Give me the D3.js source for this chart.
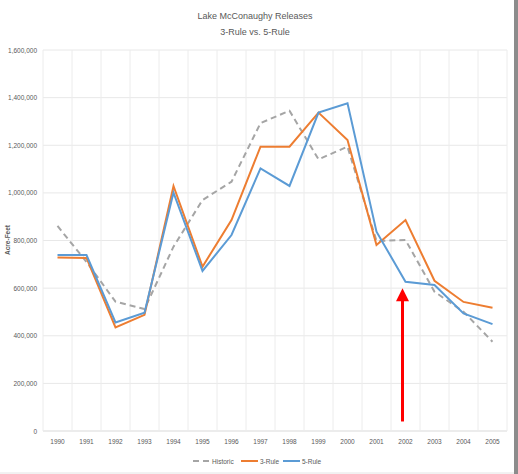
<!DOCTYPE html>
<head>
	<script src="https://d3js.org/d3.v7.min.js"></script>
	<style>
		body { margin: 0; background: #fff; }
		text { font-family: "Liberation Sans Narrow", "Liberation Sans", Arial, sans-serif; }
	</style>
</head>
<body>
	<script type="text/javascript">

		var w = 518;
		var h = 474;

		var years = ["1990","1991","1992","1993","1994","1995","1996","1997",
		             "1998","1999","2000","2001","2002","2003","2004","2005"];
		var historic = [861000, 710000, 543000, 512000, 774000, 970000, 1047000, 1293000,
		                1345000, 1141000, 1194000, 798000, 802000, 585000, 501000, 375000];
		var rule3 = [729000, 727000, 435000, 488000, 1029000, 690000, 886000, 1194000,
		             1194000, 1337000, 1222000, 781000, 886000, 631000, 542000, 518000];
		var rule5 = [739000, 739000, 456000, 497000, 1001000, 672000, 823000, 1103000,
		             1029000, 1337000, 1376000, 837000, 627000, 613000, 494000, 449000];
		var yTicks = [0, 200000, 400000, 600000, 800000, 1000000, 1200000, 1400000, 1600000];
		var seriesNames = ["Historic", "3-Rule", "5-Rule"];
		var seriesColors = ["#a5a5a5", "#ed7d31", "#5b9bd5"];
		var arrowYear = "2002";
		var arrowFrom = 40000, arrowTo = 600000;

		var svg = d3.select("body")
				.append("svg")
				.attr("width", w)
				.attr("height", h);

		var pLeft = 43, pRight = 507, pTop = 50, pBottom = 431;

		var xScale = d3.scaleBand()
				.domain(years)
				.range([pLeft, pRight]);

		var yScale = d3.scaleLinear()
				.domain([0, 1600000])
				.range([pBottom, pTop]);

		// frame bits from the screenshot
		svg.append("rect").attr("x", 514).attr("y", 0).attr("width", 4).attr("height", h).attr("fill", "#8c8c8c");
		svg.append("line").attr("x1", 0).attr("x2", 514).attr("y1", 473).attr("y2", 473)
			.attr("stroke", "#e4e4e4");

		// horizontal gridlines
		svg.selectAll(".hgrid")
			.data(yTicks)
			.enter()
			.append("line")
			.attr("x1", pLeft)
			.attr("x2", pRight)
			.attr("y1", function(d){ return yScale(d); })
			.attr("y2", function(d){ return yScale(d); })
			.attr("stroke", function(d){ return d == 0 ? "#d9d9d9" : "#e8e8e8"; })
			.attr("stroke-width", 1);

		// vertical gridlines between categories
		var vg = years.map(function(d){ return xScale(d); });
		vg.push(pRight);
		svg.selectAll(".vgrid")
			.data(vg)
			.enter()
			.append("line")
			.attr("x1", function(d){ return d; })
			.attr("x2", function(d){ return d; })
			.attr("y1", pTop)
			.attr("y2", pBottom)
			.attr("stroke", "#ececec")
			.attr("stroke-width", 1);

		// y tick labels
		svg.selectAll(".ylab")
			.data(yTicks)
			.enter()
			.append("text")
			.text(function(d){ return d3.format(",")(d); })
			.attr("x", 37)
			.attr("y", function(d){ return yScale(d) + 2.5; })
			.attr("text-anchor", "end")
			.attr("font-size", "6.5px")
			.attr("fill", "#595959");

		// x tick labels
		svg.selectAll(".xlab")
			.data(years)
			.enter()
			.append("text")
			.text(function(d){ return d; })
			.attr("x", function(d){ return xScale(d) + xScale.bandwidth() / 2; })
			.attr("y", 444)
			.attr("text-anchor", "middle")
			.attr("font-size", "6.5px")
			.attr("fill", "#595959");

		// titles
		svg.append("text").text("Lake McConaughy Releases")
			.attr("x", 255).attr("y", 19)
			.attr("text-anchor", "middle").attr("font-size", "9px").attr("fill", "#595959");
		svg.append("text").text("3-Rule vs. 5-Rule")
			.attr("x", 255).attr("y", 35)
			.attr("text-anchor", "middle").attr("font-size", "9px").attr("fill", "#595959");

		svg.append("text").text("Acre-Feet")
			.attr("transform", "translate(10,240) rotate(-90)")
			.attr("text-anchor", "middle").attr("font-size", "6.5px")
			.attr("font-weight", "bold").attr("fill", "#595959");

		var line = d3.line()
			.x(function(d, i){ return xScale(years[i]) + xScale.bandwidth() / 2; })
			.y(function(d){ return yScale(d); });

		var allSeries = [historic, rule3, rule5];
		allSeries.forEach(function(s, i) {
			svg.append("path")
				.datum(s)
				.attr("d", line)
				.attr("fill", "none")
				.attr("stroke", seriesColors[i])
				.attr("stroke-width", 2)
				.attr("stroke-dasharray", i == 0 ? "6,4" : null);
		});

		// red arrow
		var ax = xScale(arrowYear) + xScale.bandwidth() / 2 - 3;
		svg.append("line")
			.attr("x1", ax).attr("x2", ax)
			.attr("y1", yScale(arrowFrom)).attr("y2", yScale(arrowTo) + 12)
			.attr("stroke", "#ff0000").attr("stroke-width", 3);
		var tipY = yScale(arrowTo);
		svg.append("path")
			.attr("d", "M" + ax + "," + tipY + " L" + (ax - 6.5) + "," + (tipY + 13) + " L" + (ax + 6.5) + "," + (tipY + 13) + " Z")
			.attr("fill", "#ff0000");

		// legend
		var legX = [193, 241, 283];
		var leg = svg.selectAll(".leg")
			.data(seriesNames)
			.enter()
			.append("g")
			.attr("transform", function(d, i){ return "translate(" + legX[i] + ",461)"; });
		leg.append("line")
			.attr("x1", 0).attr("x2", 17).attr("y1", 0).attr("y2", 0)
			.attr("stroke", function(d, i){ return seriesColors[i]; })
			.attr("stroke-width", 2)
			.attr("stroke-dasharray", function(d, i){ return i == 0 ? "6,4" : null; });
		leg.append("text")
			.text(function(d){ return d; })
			.attr("x", 19)
			.attr("y", 2.5)
			.attr("font-size", "6.5px")
			.attr("fill", "#595959");

	</script>
</body>
